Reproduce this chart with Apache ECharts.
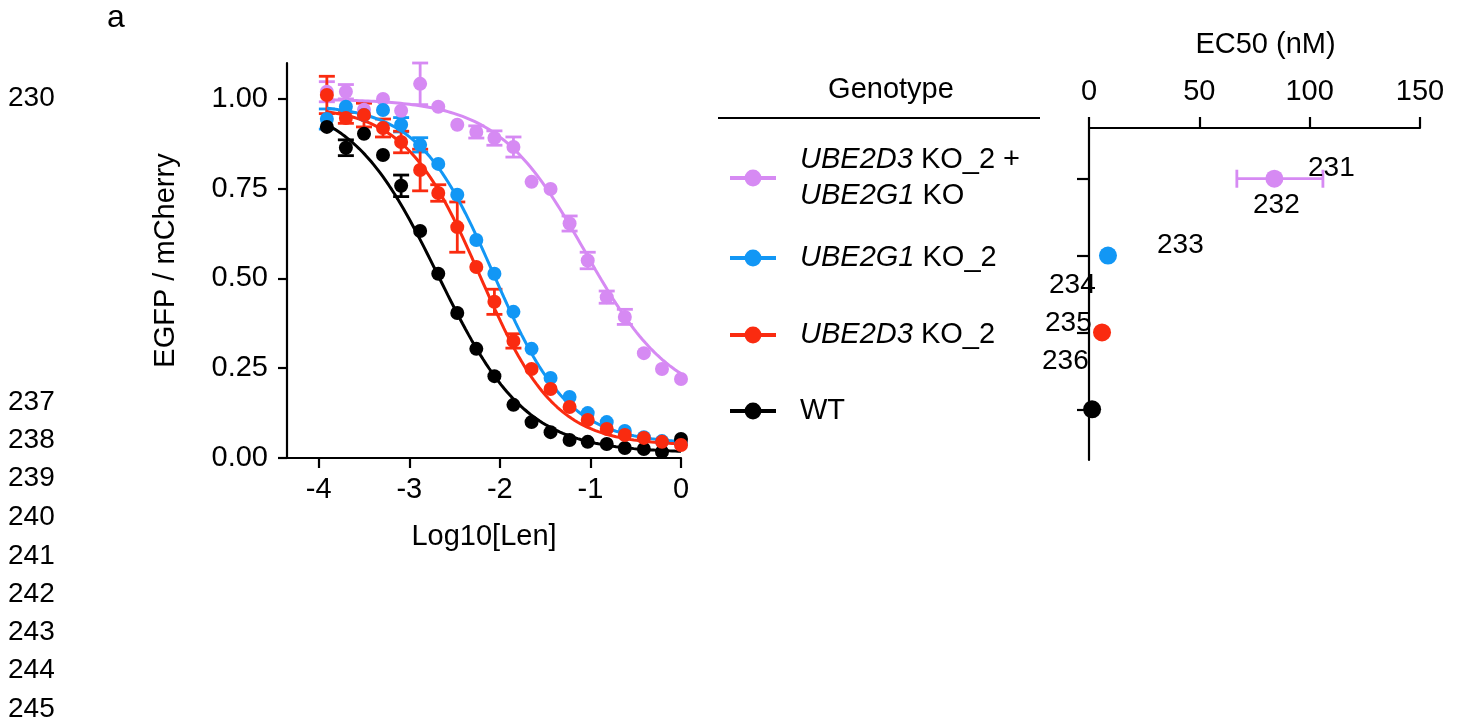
<!DOCTYPE html>
<html><head><meta charset="utf-8">
<script src="https://cdn.jsdelivr.net/npm/echarts@6/dist/echarts.min.js"></script>
<style>html,body{margin:0;padding:0;background:#fff}#chart{width:1463px;height:725px}</style>
</head><body><div id="chart"></div>
<script>
const FONT = '"Liberation Sans", Arial, Helvetica, sans-serif';

// ---------- data ----------
const genotypes = ['UBE2D3 KO_2 + UBE2G1 KO', 'UBE2G1 KO_2', 'UBE2D3 KO_2', 'WT'];
const legendLabels = ['{i|UBE2D3} KO_2 +\n{i|UBE2G1} KO', '{i|UBE2G1} KO_2', '{i|UBE2D3} KO_2', 'WT'];
const colors = ['#D68AF3', '#1297F5', '#FA2B10', '#000000'];

const logLen = [-3.91, -3.70, -3.50, -3.29, -3.09, -2.88, -2.68, -2.47, -2.26, -2.06,
                -1.85, -1.65, -1.44, -1.23, -1.03, -0.82, -0.62, -0.41, -0.21, 0];

const ratioCombo = [1.02, 1.02, 0.97, 1.00, 0.967, 1.042, 0.978, 0.928, 0.908, 0.891,
                    0.866, 0.769, 0.749, 0.653, 0.550, 0.448, 0.393, 0.292, 0.248, 0.220];
const errCombo   = [0.028, 0.02, 0, 0, 0, 0.058, 0, 0, 0.017, 0.02,
                    0.028, 0, 0, 0.021, 0.023, 0.017, 0.021, 0, 0, 0];

const ratioG1 = [0.944, 0.978, 0.955, 0.969, 0.928, 0.872, 0.819, 0.733, 0.607, 0.513,
                 0.407, 0.304, 0.223, 0.170, 0.125, 0.100, 0.075, 0.058, 0.047, 0.042];
const errG1   = [0.028, 0, 0, 0, 0.02, 0.02, 0, 0, 0, 0,
                 0, 0, 0, 0, 0, 0, 0, 0, 0, 0];

const ratioD3 = [1.011, 0.947, 0.955, 0.919, 0.880, 0.802, 0.738, 0.643, 0.532, 0.435,
                 0.326, 0.248, 0.192, 0.142, 0.106, 0.081, 0.064, 0.056, 0.045, 0.036];
const errD3   = [0.052, 0.015, 0.033, 0.025, 0.03, 0.058, 0.023, 0.07, 0, 0.035,
                 0.02, 0, 0, 0, 0, 0, 0, 0, 0, 0];

const ratioWT = [0.922, 0.864, 0.903, 0.844, 0.758, 0.632, 0.513, 0.404, 0.304, 0.228,
                 0.148, 0.100, 0.072, 0.050, 0.045, 0.039, 0.028, 0.025, 0.017, 0.053];
const errWT   = [0, 0.022, 0, 0, 0.03, 0, 0, 0, 0, 0,
                 0, 0, 0, 0, 0, 0, 0, 0, 0, 0];

// four-parameter logistic fit parameters (top, bottom, logEC50, hill)
const fitTop     = [1.00, 0.985, 0.98, 1.00];
const fitBottom  = [0.15, 0.04, 0.035, 0.015];
const fitLogEC50 = [-1.06, -2.07, -2.22, -2.68];
const fitHill    = [0.9, 1.05, 1.05, 0.9];

// EC50 panel (nM)
const ec50     = [84, 8.6, 5.9, 1.4];
const ec50Low  = [67, null, null, null];
const ec50High = [106, null, null, null];

const yTicks = [0, 0.25, 0.5, 0.75, 1.0];
const xTicks = [-4, -3, -2, -1, 0];

const lineNumbers = ['230', '231', '232', '233', '234', '235', '236', '237', '238', '239', '240', '241', '242', '243', '244', '245'];
const lineNumberPos = [[8, 98], [1308, 168], [1253, 205], [1157, 245], [1049, 285], [1045, 323], [1042, 361],
                       [8, 402], [8, 440], [8, 478], [8, 517], [8, 556], [8, 594], [8, 632], [8, 670], [8, 709]];

// ---------- build ----------
const ratios = [ratioCombo, ratioG1, ratioD3, ratioWT];
const errs = [errCombo, errG1, errD3, errWT];
const drawOrder = [0, 1, 3, 2];

function fitCurve(i) {
  const pts = [];
  const x0 = logLen[0], x1 = logLen[logLen.length - 1];
  const n = 120;
  for (let k = 0; k <= n; k++) {
    const x = x0 + (x1 - x0) * k / n;
    const y = fitBottom[i] + (fitTop[i] - fitBottom[i]) / (1 + Math.pow(10, (x - fitLogEC50[i]) * fitHill[i]));
    pts.push([x, y]);
  }
  return pts;
}

function vErrRender(color) {
  return function (params, api) {
    const e = api.value(2);
    if (!e) return null;
    const x = api.value(0), y = api.value(1);
    const top = api.coord([x, y + e]);
    const bot = api.coord([x, y - e]);
    const w = 8;
    const st = { stroke: color, lineWidth: 2.8 };
    return { type: 'group', children: [
      { type: 'line', shape: { x1: top[0], y1: top[1], x2: bot[0], y2: bot[1] }, style: st },
      { type: 'line', shape: { x1: top[0] - w, y1: top[1], x2: top[0] + w, y2: top[1] }, style: st },
      { type: 'line', shape: { x1: bot[0] - w, y1: bot[1], x2: bot[0] + w, y2: bot[1] }, style: st }
    ]};
  };
}

const series = [];
drawOrder.forEach(i => {
  series.push({
    type: 'custom', name: genotypes[i] + ' err', xAxisIndex: 0, yAxisIndex: 0,
    renderItem: vErrRender(colors[i]),
    data: logLen.map((x, k) => [x, ratios[i][k], errs[i][k]]),
    silent: true, z: 2
  });
  series.push({
    type: 'line', name: genotypes[i], xAxisIndex: 0, yAxisIndex: 0,
    data: fitCurve(i), showSymbol: false, symbol: 'circle', symbolSize: 13,
    lineStyle: { color: colors[i], width: 3 }, itemStyle: { color: colors[i] },
    silent: true, z: 2
  });
  series.push({
    type: 'scatter', name: genotypes[i] + ' pts', xAxisIndex: 0, yAxisIndex: 0,
    data: logLen.map((x, k) => [x, ratios[i][k]]), symbol: 'circle', symbolSize: 14,
    itemStyle: { color: colors[i], opacity: 1 }, silent: true, z: 3
  });
});

// EC50 panel
series.push({
  type: 'custom', name: 'ec50 err', xAxisIndex: 1, yAxisIndex: 1, silent: true,
  renderItem: function (params, api) {
    const lo = api.value(0), hi = api.value(1), yi = api.value(2);
    if (lo == null || isNaN(lo)) return null;
    const a = api.coord([lo, yi]), b = api.coord([hi, yi]);
    const h = 9;
    const st = { stroke: colors[yi], lineWidth: 2.8 };
    return { type: 'group', children: [
      { type: 'line', shape: { x1: a[0], y1: a[1], x2: b[0], y2: b[1] }, style: st },
      { type: 'line', shape: { x1: a[0], y1: a[1] - h, x2: a[0], y2: a[1] + h }, style: st },
      { type: 'line', shape: { x1: b[0], y1: b[1] - h, x2: b[0], y2: b[1] + h }, style: st }
    ]};
  },
  data: ec50.map((v, i) => [ec50Low[i] == null ? NaN : ec50Low[i], ec50High[i] == null ? NaN : ec50High[i], i])
});
series.push({
  type: 'scatter', name: 'ec50', xAxisIndex: 1, yAxisIndex: 1, silent: true,
  symbol: 'circle', symbolSize: 18,
  data: ec50.map((v, i) => ({ value: [v, i], itemStyle: { color: colors[i], opacity: 1 } }))
});

const FS = 29;
const axisLineStyle = { color: '#000', width: 2.2 };
const labelStyle = { color: '#000', fontSize: FS, fontFamily: FONT };

const legendTops = [178 - 36, 258 - 18, 335 - 18, 411 - 18];
const legends = genotypes.map((g, i) => ({
  data: [g], orient: 'vertical', left: 728, top: legendTops[i], padding: 0,
  itemWidth: 46, itemHeight: 21, selectedMode: false,
  lineStyle: { width: 4 },
  formatter: () => legendLabels[i],
  textStyle: {
    color: '#000', fontSize: FS, fontFamily: FONT, lineHeight: 36, padding: [0, 0, 0, 19],
    rich: { i: { fontStyle: 'italic', fontSize: FS, fontFamily: FONT, color: '#000', lineHeight: 36 } }
  }
}));

const graphic = [
  { type: 'text', style: { text: 'a', x: 107, y: 18, fill: '#000', font: '32px ' + FONT, verticalAlign: 'middle' } },
  { type: 'text', style: { text: 'Genotype', x: 891, y: 90, fill: '#000', font: FS + 'px ' + FONT, align: 'center', verticalAlign: 'middle' } },
  { type: 'line', shape: { x1: 718, y1: 118, x2: 1040, y2: 118 }, style: { stroke: '#000', lineWidth: 2 } }
];
lineNumbers.forEach((t, i) => {
  graphic.push({ type: 'text', z: 100, style: { text: t, x: lineNumberPos[i][0], y: lineNumberPos[i][1], fill: '#000', font: '28px ' + FONT, verticalAlign: 'middle' } });
});

const option = {
  animation: false,
  backgroundColor: '#fff',
  textStyle: { fontFamily: FONT },
  grid: [
    { left: 287, top: 63, width: 394, height: 395 },
    { left: 1089, top: 128, width: 331, height: 332 }
  ],
  xAxis: [
    { type: 'value', gridIndex: 0, min: -4.35, max: 0,
      axisLine: { onZero: false, lineStyle: axisLineStyle },
      axisTick: { length: 10, lineStyle: { width: 2.2, color: '#000' }, customValues: xTicks },
      axisLabel: Object.assign({ margin: 17, customValues: xTicks }, labelStyle),
      splitLine: { show: false },
      name: 'Log10[Len]', nameLocation: 'middle', nameGap: 64, nameTextStyle: labelStyle },
    { type: 'value', gridIndex: 1, position: 'top', min: 0, max: 150, interval: 50,
      axisLine: { onZero: false, lineStyle: axisLineStyle },
      axisTick: { length: 11, lineStyle: { width: 2.2, color: '#000' } },
      axisLabel: Object.assign({ margin: 22 }, labelStyle),
      splitLine: { show: false },
      name: 'EC50 (nM)', nameLocation: 'middle', nameGap: 69,
      nameTextStyle: Object.assign({ padding: [0, 0, 0, 22] }, labelStyle) }
  ],
  yAxis: [
    { type: 'value', gridIndex: 0, min: 0, max: 1.1,
      axisLine: { show: true, onZero: false, lineStyle: axisLineStyle },
      axisTick: { show: true, length: 9, lineStyle: { width: 2.2, color: '#000' }, customValues: yTicks },
      axisLabel: Object.assign({ margin: 19, customValues: yTicks, formatter: v => v.toFixed(2) }, labelStyle),
      splitLine: { show: false },
      name: 'EGFP / mCherry', nameLocation: 'middle', nameGap: 107, nameTextStyle: labelStyle },
    { type: 'value', gridIndex: 1, inverse: true, min: -0.66, max: 3.66,
      axisLine: { show: true, onZero: false, lineStyle: axisLineStyle },
      axisTick: { show: true, length: 12, lineStyle: { width: 2.2, color: '#000' }, customValues: [0, 1, 2, 3] },
      axisLabel: { show: false },
      splitLine: { show: false } }
  ],
  legend: legends,
  graphic: graphic,
  series: series
};

const chart = echarts.init(document.getElementById('chart'), null, { renderer: 'canvas' });
chart.setOption(option);
</script>
</body></html>
